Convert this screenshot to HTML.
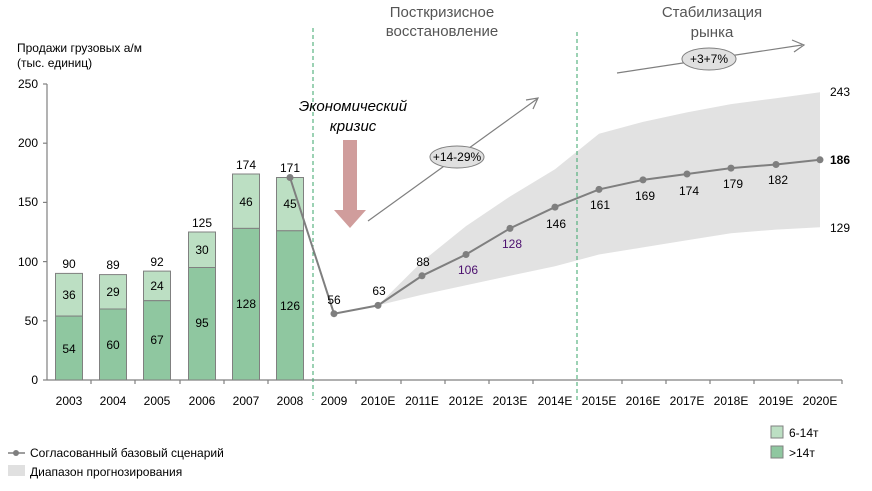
<!DOCTYPE html>
<html><head><meta charset="utf-8"><style>
body{margin:0;background:#fff;}
svg{display:block;font-family:"Liberation Sans",sans-serif;}
</style></head><body>
<svg width="872" height="491" viewBox="0 0 872 491" xmlns="http://www.w3.org/2000/svg">
<!-- band -->
<polygon fill="#e2e2e2" points="378,305.4 422,261.6 466,226.1 510,196.5 555,169.3 599,133.7 643,121.9 687,112.4 731,104.1 776,98.2 820,92.3 820,227.3 776,229.6 731,233.2 687,240.3 643,247.4 599,254.5 555,266.3 510,275.8 466,285.3 422,294.8"/>
<!-- axes -->
<g stroke="#808080" stroke-width="1.2" fill="none">
<line x1="47" y1="84" x2="47" y2="380"/>
<line x1="47" y1="380" x2="842" y2="380"/>
<line x1="43" y1="84" x2="47" y2="84"/><line x1="43" y1="143.2" x2="47" y2="143.2"/><line x1="43" y1="202.4" x2="47" y2="202.4"/><line x1="43" y1="261.6" x2="47" y2="261.6"/><line x1="43" y1="320.8" x2="47" y2="320.8"/><line x1="43" y1="380" x2="47" y2="380"/>
<path d="M91,380v4M135,380v4M180,380v4M224,380v4M268,380v4M356,380v4M401,380v4M445,380v4M489,380v4M533,380v4M622,380v4M666,380v4M710,380v4M754,380v4M798,380v4M842,380v4"/>
</g>
<g font-size="12" fill="#000" text-anchor="end">
<text x="38" y="88">250</text><text x="38" y="147">200</text><text x="38" y="206">150</text><text x="38" y="266">100</text><text x="38" y="325">50</text><text x="38" y="384">0</text>
</g>
<text x="17" y="52" font-size="12">Продажи грузовых а/м</text>
<text x="17" y="67" font-size="12">(тыс. единиц)</text>
<!-- bars -->
<g stroke="#808080" stroke-width="1">
<rect x="55.5" y="273.4" width="27" height="42.7" fill="#bcdfc3"/><rect x="55.5" y="316.1" width="27" height="63.9" fill="#8fc7a0"/>
<rect x="99.5" y="274.6" width="27" height="34.4" fill="#bcdfc3"/><rect x="99.5" y="309" width="27" height="71" fill="#8fc7a0"/>
<rect x="143.5" y="271.1" width="27" height="29.6" fill="#bcdfc3"/><rect x="143.5" y="300.7" width="27" height="79.3" fill="#8fc7a0"/>
<rect x="188.5" y="232" width="27" height="35.5" fill="#bcdfc3"/><rect x="188.5" y="267.5" width="27" height="112.5" fill="#8fc7a0"/>
<rect x="232.5" y="174" width="27" height="54.4" fill="#bcdfc3"/><rect x="232.5" y="228.4" width="27" height="151.6" fill="#8fc7a0"/>
<rect x="276.5" y="177.5" width="27" height="53.3" fill="#bcdfc3"/><rect x="276.5" y="230.8" width="27" height="149.2" fill="#8fc7a0"/>
</g>
<g font-size="12" text-anchor="middle" fill="#000">
<text x="69" y="268">90</text><text x="113" y="269">89</text><text x="157" y="266">92</text><text x="202" y="227">125</text><text x="246" y="169">174</text><text x="290" y="172">171</text>
<text x="69" y="299">36</text><text x="113" y="296">29</text><text x="157" y="290">24</text><text x="202" y="254">30</text><text x="246" y="206">46</text><text x="290" y="208">45</text>
<text x="69" y="353">54</text><text x="113" y="349">60</text><text x="157" y="344">67</text><text x="202" y="327">95</text><text x="246" y="308">128</text><text x="290" y="310">126</text>
</g>
<!-- dashed verticals -->
<g stroke="#3aa66a" stroke-dasharray="4,3" stroke-width="1">
<line x1="313" y1="28" x2="313" y2="400"/><line x1="577" y1="32" x2="577" y2="400"/>
</g>
<!-- x labels -->
<g font-size="12" text-anchor="middle" fill="#000">
<text x="69" y="405">2003</text><text x="113" y="405">2004</text><text x="157" y="405">2005</text><text x="202" y="405">2006</text><text x="246" y="405">2007</text><text x="290" y="405">2008</text>
<text x="334" y="405">2009</text><text x="378" y="405">2010E</text><text x="422" y="405">2011E</text><text x="466" y="405">2012E</text><text x="510" y="405">2013E</text><text x="555" y="405">2014E</text><text x="599" y="405">2015E</text><text x="643" y="405">2016E</text><text x="687" y="405">2017E</text><text x="731" y="405">2018E</text><text x="776" y="405">2019E</text><text x="820" y="405">2020E</text>
</g>
<!-- line -->
<polyline fill="none" stroke="#7f7f7f" stroke-width="2" points="290,177.5 334,313.7 378,305.4 422,275.8 466,254.5 510,228.4 555,207.1 599,189.4 643,179.9 687,174 731,168.1 776,164.5 820,159.8"/>
<g fill="#7f7f7f">
<circle cx="290" cy="177.5" r="3.5"/><circle cx="334" cy="313.7" r="3.5"/><circle cx="378" cy="305.4" r="3.5"/><circle cx="422" cy="275.8" r="3.5"/><circle cx="466" cy="254.5" r="3.5"/><circle cx="510" cy="228.4" r="3.5"/><circle cx="555" cy="207.1" r="3.5"/><circle cx="599" cy="189.4" r="3.5"/><circle cx="643" cy="179.9" r="3.5"/><circle cx="687" cy="174" r="3.5"/><circle cx="731" cy="168.1" r="3.5"/><circle cx="776" cy="164.5" r="3.5"/><circle cx="820" cy="159.8" r="3.5"/>
</g>
<g font-size="12" text-anchor="middle" fill="#000">
<text x="334" y="304">56</text><text x="379" y="295">63</text><text x="423" y="266">88</text><text x="468" y="274" fill="#4b0f6e">106</text><text x="512" y="248" fill="#4b0f6e">128</text><text x="556" y="228">146</text><text x="600" y="209">161</text><text x="645" y="200">169</text><text x="689" y="195">174</text><text x="733" y="188">179</text><text x="778" y="184">182</text>
<text x="840" y="164" font-weight="bold">186</text><text x="840" y="96">243</text><text x="840" y="232">129</text>
</g>
<!-- headings -->
<g font-size="15" fill="#555" text-anchor="middle">
<text x="442" y="17">Посткризисное</text><text x="442" y="36">восстановление</text>
<text x="712" y="17">Стабилизация</text><text x="712" y="37">рынка</text>
</g>
<g font-size="15" font-style="italic" fill="#000" text-anchor="middle">
<text x="353" y="111">Экономический</text><text x="353" y="131">кризис</text>
</g>
<!-- crisis arrow -->
<polygon fill="#d09d9c" points="343,140 357,140 357,210 366,210 350,228 334,210 343,210"/>
<!-- growth arrows -->
<g stroke="#7f7f7f" stroke-width="1.2" fill="none">
<line x1="368" y1="221" x2="537" y2="99"/><polyline points="526,100 538,98 533,109"/>
<line x1="617" y1="73" x2="802" y2="45"/><polyline points="792,40 804,45 794,52"/>
</g>
<ellipse cx="457" cy="157" rx="27" ry="11" fill="#e0e0e0" stroke="#7f7f7f"/>
<text x="457" y="161" font-size="12" text-anchor="middle">+14-29%</text>
<ellipse cx="709" cy="59" rx="27" ry="11" fill="#e0e0e0" stroke="#7f7f7f"/>
<text x="709" y="63" font-size="12" text-anchor="middle">+3+7%</text>
<!-- legend -->
<line x1="8" y1="453" x2="25" y2="453" stroke="#7f7f7f" stroke-width="1.5"/><circle cx="16" cy="453" r="3" fill="#7f7f7f"/>
<text x="30" y="457" font-size="12">Согласованный базовый сценарий</text>
<rect x="8" y="465" width="17" height="11" fill="#e0e0e0"/>
<text x="30" y="476" font-size="12">Диапазон прогнозирования</text>
<rect x="771" y="426" width="12" height="12" fill="#bcdfc3" stroke="#808080"/><text x="789" y="437" font-size="12">6-14т</text>
<rect x="771" y="446" width="12" height="12" fill="#8fc7a0" stroke="#808080"/><text x="789" y="457" font-size="12">&gt;14т</text>
</svg>
</body></html>
